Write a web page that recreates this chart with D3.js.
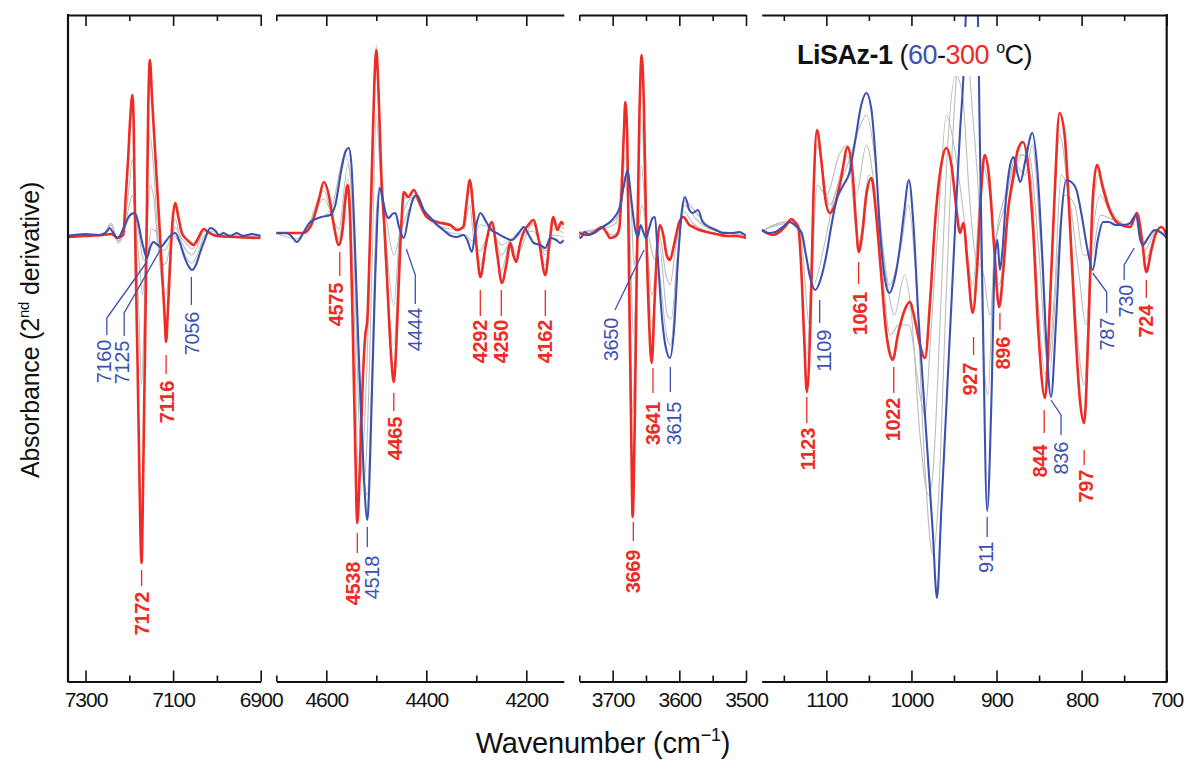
<!DOCTYPE html>
<html>
<head>
<meta charset="utf-8">
<script src="https://cdn.jsdelivr.net/npm/d3@7/dist/d3.min.js"></script>
<style>
html,body{margin:0;padding:0;background:#fff;}
svg{display:block;font-family:"Liberation Sans",Arial,Helvetica,sans-serif;}
</style>
</head>
<body>
<svg id="chart" width="1192" height="760"></svg>
<script>
// ---------------- DATA ----------------
// x-axis broken into four wavenumber windows (cm-1)
const panelDomains = [[7340, 6900], [4700, 4125], [3750, 3500], [1176, 700]];
const majorTicks = [[7300, 7100, 6900], [4600, 4400, 4200], [3700, 3600, 3500], [1100, 1000, 900, 800, 700]];
const minorTicks = [[7200, 7000], [4700, 4500, 4300], [3750, 3650, 3550], [1150, 1050, 950, 850, 750]];
const tickLabels = [["7300", "7100", "6900"], ["4600", "4400", "4200"], ["3700", "3600", "3500"], ["1100", "1000", "900", "800", "700"]];
// 2nd-derivative absorbance, arbitrary units (0 = baseline)
const valueDomain = [-223.25, 110];

// 300 °C (red)
const redP1 = [[7340,-1],[7300,-0.5],[7260,0],[7240,0.5],[7228,-1.5],[7218,-0.5],[7214,0],[7208,20],[7203,37],[7198,58],[7193,70],[7190,55],[7186,-8],[7181,-66],[7177,-120],[7172,-164],[7168,-115],[7164,-55],[7160,10],[7157,60],[7153,87.5],[7148,68],[7143,49],[7138,30],[7131,4],[7124,-23],[7120,-38],[7116,-53.5],[7112,-38],[7108,-20],[7101,8],[7095,16],[7088,9],[7080,1],[7070,-2],[7060,-4],[7054,-5],[7045,-2.5],[7030,3],[7020,1.5],[7000,-0.5],[6960,-1],[6900,-1.5]];
const redP2 = [[4700,1],[4680,1],[4646,1],[4630,5],[4615,17.5],[4605,26.5],[4595,20],[4585,5],[4575,-5],[4567,3.5],[4562,17.5],[4557,25],[4552,5],[4547,-47.5],[4542,-107.5],[4538,-144],[4533,-117.5],[4527,-72.5],[4522,-50],[4518,-42.5],[4513,-5],[4508,40],[4504,75],[4500,92.5],[4496,75],[4490,30],[4483,1],[4475,-40],[4470,-62],[4465,-73.5],[4460,-55],[4456,-30],[4450,5],[4445,21.5],[4436,19],[4425,22.5],[4412,15],[4399,9],[4379,6.5],[4352,5],[4339,2.5],[4326,4],[4320,15],[4313,27.5],[4305,10],[4298,-10],[4292,-21],[4281,-5],[4269,6.5],[4258,-10],[4249,-24],[4240,-15],[4232,-4],[4226,-10],[4220,-13.5],[4213,-5],[4206,1],[4196,5],[4186,7.5],[4175,-2.5],[4162,-20],[4154,-5],[4146,9],[4138,2.5],[4130,6.5],[4125,5]];
const redP3 = [[3752,1.5],[3740,0],[3730,1],[3716,4],[3708,0.5],[3704,-1.5],[3695,-0.5],[3690,3.5],[3686,27.5],[3683,52.5],[3681,66.5],[3678,47.5],[3675,-32.5],[3672,-102.5],[3670,-141],[3667,-97.5],[3664,-22.5],[3660,57.5],[3656.5,90],[3653,62.5],[3650,7.5],[3646,-37.5],[3641.5,-64],[3637,-32.5],[3633,-5],[3629,5],[3624,0],[3619,-10],[3614,-12.5],[3608,-5],[3600,6.5],[3594,9],[3585,5],[3579,4],[3570,2.5],[3559,1.5],[3545,0.5],[3530,-0.5],[3515,-0.5],[3500,-1.5]];
const redP4 = [[1176,2.5],[1170,1],[1163,0],[1155,1.5],[1148,4.5],[1141,8],[1137,6.5],[1133,4],[1130,-12.5],[1126,-52.5],[1123,-78.5],[1119,-47.5],[1115,22.5],[1111,52.5],[1106,37.5],[1101,17.5],[1096,11],[1090,15],[1083,27.5],[1075,44],[1069,30],[1065,5],[1062,-8.5],[1058,0],[1053,20],[1047,28.5],[1042,12.5],[1036,-17.5],[1030,-47.5],[1025,-60],[1022,-62.5],[1016,-50],[1008,-37.5],[1002,-33.5],[996,-42.5],[990,-55],[984,-61.5],[978,-32.5],[972,7.5],[965,35],[959,43.5],[953,35],[947,12.5],[943,1],[939,6],[934,-15],[928,-39],[923,-17.5],[918,22.5],[914,40],[909,30],[903,-5],[897,-36],[892,-17.5],[887,10],[880,30],[875,42.5],[869,46.5],[863,35],[857,2.5],[851,-47.5],[843,-81.5],[837,-32.5],[832,17.5],[826,61],[820,50],[814,7.5],[808,-42.5],[802,-82.5],[797,-94],[792,-47.5],[787,17.5],[782,35],[775,23.5],[767,12.5],[759,6.5],[750,4.5],[743,4],[735,11],[729,-2.5],[724,-18.5],[718,-7.5],[712,1.5],[706,4],[700,0]];

// 60 °C (blue)
const blueP1 = [[7340,-0.5],[7300,0.5],[7270,0],[7250,2],[7245,3.5],[7238,1.5],[7226,-1.5],[7215,2.5],[7203,8.5],[7195,10.5],[7187,11],[7180,6.5],[7172,-2.5],[7165,-8.5],[7160,-11.5],[7152,-6],[7145,-3.5],[7138,-4.5],[7128,-6],[7118,-3.5],[7105,0],[7095,1],[7085,-3.5],[7075,-10.5],[7065,-15.5],[7057,-17.5],[7048,-15],[7038,-8.5],[7028,-2.5],[7015,3.5],[7005,2.5],[6995,0],[6985,1],[6970,-0.5],[6955,1],[6940,-0.5],[6920,0.5],[6900,-0.5]];
const blueP2 = [[4700,1],[4680,1],[4670,-0.5],[4659,-3.5],[4645,1.5],[4632,6.5],[4610,9],[4592,10],[4582,15],[4570,32.5],[4562,41.5],[4555,43.5],[4550,36],[4545,10],[4540,-25],[4535,-60],[4530,-92],[4525,-120],[4518,-142.5],[4514,-125],[4510,-90],[4506,-55],[4502,-20],[4498,8],[4493,23.5],[4487,17.5],[4480,10],[4475,8.5],[4468,10.5],[4462,11],[4454,3.5],[4445,-1.5],[4435,10],[4426,18.5],[4419,20],[4405,12.5],[4393,9],[4380,5.5],[4366,2.5],[4350,-0.5],[4339,-1],[4326,0],[4318,-2.5],[4309,-8.5],[4300,5],[4292,11],[4280,6.5],[4270,2.5],[4259,1],[4245,-1],[4229,-2.5],[4215,1],[4205,4],[4195,0],[4185,-4],[4172,-5],[4162,-6.5],[4152,-1.5],[4140,-2.5],[4132,-4],[4125,-2.5]];
const blueP3 = [[3752,1],[3748,-1.5],[3742,1.5],[3735,0],[3725,1.5],[3715,4],[3704,6.5],[3695,10],[3689,14],[3683,25],[3677.5,32.5],[3672,17.5],[3666,2.5],[3662,-1],[3658,5],[3655,2.5],[3650,-1.5],[3646,2.5],[3640,8.5],[3636.5,9],[3632,-12.5],[3627,-37.5],[3621,-55],[3614,-61.5],[3608,-47.5],[3602,-12.5],[3596,12.5],[3591.5,19],[3585,12.5],[3580,11],[3572,12.5],[3565,6.5],[3555,4],[3545,2.5],[3535,1],[3520,1],[3510,1.5],[3500,-0.5]];
const blueP4 = [[1176,2.5],[1168,1],[1160,1.5],[1150,4.5],[1143,6.5],[1136,4.5],[1129,1],[1124,-10],[1119,-21.5],[1113,-27.5],[1107,-22.5],[1100,-10],[1094,5],[1088,17.5],[1080,25],[1073,31],[1066,47.5],[1059,65],[1053,71],[1047,62.5],[1042,37.5],[1037,2.5],[1031,-22.5],[1026,-29],[1020,-22.5],[1014,-7.5],[1009,10],[1003,27.5],[998,7.5],[992,-39.5],[986,-78],[980,-116],[975,-148],[970,-181.5],[965,-138.5],[959,-86],[953,-34],[947,18.5],[943,51],[939,78.5],[936,111],[932,137.5],[928,142.5],[925,130],[922,112.5],[920,57.5],[916,-42.5],[911,-138],[906,-82.5],[902,-12.5],[899,-2.5],[896,-17.5],[893,-7.5],[889,17.5],[884,35],[880,39],[875,30],[872,26.5],[866,37.5],[858,51],[852,32.5],[846,-12.5],[841,-57.5],[836,-81],[830,-42.5],[824,7.5],[818,27.5],[812,26.5],[806,22.5],[800,10],[793,-7.5],[787,-17.5],[781,-2.5],[775,6.5],[768,6.5],[760,5],[750,5],[743,6],[736,10],[731,-2.5],[728,-5],[722,-1.5],[714,2.5],[706,1],[700,-1.5]];

// intermediate temperatures (grey)
const greyP1a = [[7340,-0.5],[7260,0.5],[7240,5],[7228,-3],[7214,1],[7200,25],[7193,38],[7186,5],[7178,-40],[7172,-75],[7166,-40],[7160,15],[7153,50],[7145,35],[7135,0],[7125,-25],[7116,-30],[7105,-5],[7095,8],[7085,0],[7070,-4],[7057,-7],[7045,-4],[7030,2],[7000,0],[6900,-1]];
const greyP1b = [[7340,0],[7260,0],[7242,6],[7225,-4],[7212,2],[7200,15],[7193,20],[7185,5],[7175,-20],[7170,-30],[7162,-10],[7153,25],[7145,20],[7135,-5],[7125,-15],[7116,-14],[7105,-3],[7095,4],[7080,-4],[7065,-9],[7057,-10],[7045,-6],[7030,2],[7000,0],[6900,0]];
const greyP1c = [[7340,0],[7260,0],[7242,5],[7225,-3],[7210,3],[7195,11],[7187,10],[7178,0],[7168,-12],[7160,-13],[7150,3],[7140,2],[7128,-8],[7116,-7],[7100,0],[7085,-4],[7065,-13],[7057,-14],[7045,-10],[7028,0],[7010,2],[6990,0],[6900,0]];
const greyP2a = [[4700,1],[4646,1],[4605,22],[4575,-2],[4557,28],[4545,-30],[4535,-125],[4527,-110],[4518,-60],[4508,30],[4500,95],[4492,40],[4480,-20],[4465,-55],[4452,0],[4445,18],[4425,20],[4400,9],[4350,5],[4330,3],[4313,22],[4300,-5],[4292,-15],[4270,5],[4250,-18],[4232,-3],[4220,-10],[4186,6],[4162,-15],[4146,6],[4125,3]];
const greyP2b = [[4700,1],[4646,1],[4605,18],[4575,3],[4557,35],[4545,-5],[4535,-90],[4525,-125],[4518,-100],[4508,-10],[4500,60],[4492,30],[4480,-5],[4465,-35],[4452,5],[4440,15],[4425,19],[4400,9],[4350,3],[4325,3],[4313,15],[4305,-2],[4292,-8],[4270,4],[4250,-10],[4232,-3],[4186,5],[4162,-10],[4146,3],[4125,1]];
const greyP2c = [[4700,1],[4659,-2],[4632,6],[4592,12],[4562,40],[4550,25],[4540,-30],[4528,-110],[4518,-130],[4508,-60],[4500,10],[4493,25],[4480,8],[4465,-10],[4450,3],[4430,15],[4419,19],[4400,10],[4350,1],[4320,0],[4309,-3],[4292,5],[4270,3],[4250,-5],[4229,-2],[4186,2],[4162,-8],[4146,0],[4125,-1]];
const greyP3a = [[3752,1],[3716,3],[3700,0],[3690,3],[3681,40],[3675,-10],[3670,-90],[3665,-30],[3657,60],[3650,10],[3641,-45],[3630,0],[3620,-20],[3614,-25],[3605,-5],[3594,12],[3580,6],[3560,2],[3530,0],[3500,-1]];
const greyP3b = [[3752,1],[3716,3],[3695,6],[3681,25],[3674,0],[3669,-50],[3663,-10],[3657,35],[3650,5],[3641,-30],[3630,-5],[3618,-40],[3612,-42],[3603,-10],[3593,15],[3575,8],[3555,3],[3530,1],[3500,0]];
const greyP3c = [[3752,1],[3716,4],[3695,8],[3680,30],[3672,12],[3668,-15],[3662,0],[3656,15],[3648,3],[3640,-10],[3632,-15],[3618,-52],[3613,-55],[3603,-15],[3592,17],[3572,10],[3550,3],[3520,1],[3500,0]];
const greyP4a = [[1176,2],[1141,7],[1133,3],[1123,-60],[1111,45],[1096,15],[1080,35],[1075,40],[1062,-5],[1050,30],[1040,10],[1025,-50],[1015,-45],[1003,-45],[990,-80],[984,-90],[978,-55],[968,10],[959,60],[950,45],[940,15],[928,-25],[916,35],[908,20],[897,-25],[885,15],[870,40],[860,30],[850,-40],[843,-70],[835,-10],[826,50],[815,15],[805,-50],[797,-75],[787,10],[780,30],[765,12],[745,5],[735,10],[724,-12],[712,2],[700,0]];
const greyP4b = [[1176,2],[1141,7],[1130,0],[1120,-45],[1111,25],[1100,20],[1085,40],[1075,45],[1065,20],[1053,45],[1042,20],[1030,-20],[1020,-40],[1008,-20],[1000,-40],[990,-100],[980,-130],[975,-120],[966,-40],[958,40],[948,80],[940,70],[932,20],[925,-10],[915,-20],[908,-40],[900,0],[890,20],[875,40],[862,40],[850,-10],[840,-65],[832,-30],[824,30],[815,20],[803,-20],[795,-45],[787,0],[778,20],[765,10],[745,5],[735,10],[727,-8],[712,2],[700,0]];
const greyP4c = [[1176,2],[1143,6],[1128,-2],[1115,-25],[1105,-10],[1090,20],[1075,35],[1060,55],[1053,60],[1045,45],[1035,0],[1026,-25],[1012,-5],[1004,15],[995,-20],[985,-110],[975,-160],[968,-130],[960,-40],[950,60],[942,100],[935,95],[928,60],[920,10],[914,-70],[910,-80],[903,-10],[890,15],[878,35],[866,30],[858,45],[848,-5],[838,-70],[828,-10],[820,20],[808,15],[798,-10],[788,-10],[778,10],[765,8],[745,5],[735,10],[729,-4],[714,2],[700,-1]];

// band assignments (wavenumber, series: r = 300 °C, b = 60 °C, panel index)
const peakWavenumbers = [7172, 7116, 7056, 7160, 7125, 4575, 4538, 4518, 4465, 4444, 4292, 4250, 4162, 3669, 3650, 3641, 3615, 1123, 1109, 1061, 1022, 927, 911, 896, 844, 836, 797, 787, 730, 724];
const peakSeries = ["r","r","b","b","b","r","r","b","r","b","r","r","r","r","b","r","b","r","b","r","r","r","b","r","r","b","r","b","b","r"];
const peakPanels = [0,0,0,0,0,1,1,1,1,1,1,1,1,2,2,2,2,3,3,3,3,3,3,3,3,3,3,3,3,3];

// ---------------- LAYOUT ----------------
const W = 1192, H = 760;
const yTop = 15, yBot = 681.5;
const panelRanges = [[68, 260.7], [276.3, 563.8], [579.3, 746], [761.7, 1166.7]];
const RED = "#ee2b24", BLUE = "#3d51b0", GREY = "#bdbdbd";
// leader polylines [dx from band, y] , text top y, text dx
const peakLayout = [
  {lead: [[0,570],[0,586]], ty: 592, tdx: 0},
  {lead: [[0,355],[0,374]], ty: 381, tdx: 1},
  {lead: [[-1,277],[-1,305]], ty: 312, tdx: 0},
  {lead: [[0,262],[-40,318],[-40,335]], ty: 340, tdx: -43},
  {lead: [[-2,250],[-38,313],[-38,336]], ty: 341, tdx: -40},
  {lead: [[1,252],[1,276]], ty: 283, tdx: -3},
  {lead: [[0,533],[0,553]], ty: 562, tdx: -4},
  {lead: [[0,527],[0,547]], ty: 556, tdx: 5},
  {lead: [[0,393],[0,411]], ty: 417, tdx: 1},
  {lead: [[2,249],[11,275],[11,304]], ty: 308, tdx: 11},
  {lead: [[0,290],[0,316]], ty: 320, tdx: 0},
  {lead: [[0,290],[0,316]], ty: 320, tdx: 0},
  {lead: [[0,290],[0,316]], ty: 320, tdx: 0},
  {lead: [[0,522],[0,541]], ty: 550, tdx: 0},
  {lead: [[-2,250],[-31,310]], ty: 318, tdx: -35},
  {lead: [[1,368],[1,393]], ty: 402, tdx: 1},
  {lead: [[1,367],[1,392]], ty: 402, tdx: 5},
  {lead: [[0,397],[0,423]], ty: 428, tdx: 1},
  {lead: [[1,300],[1,323]], ty: 330, tdx: 5},
  {lead: [[-1,262],[-1,284]], ty: 292, tdx: 0},
  {lead: [[1,367],[1,393]], ty: 398, tdx: 0},
  {lead: [[0,337],[0,355]], ty: 363, tdx: -4},
  {lead: [[0,517],[0,537]], ty: 542, tdx: -1},
  {lead: [[0,313],[0,330]], ty: 337, tdx: 3},
  {lead: [[0,410],[0,433]], ty: 445, tdx: -4},
  {lead: [[0,400],[10,415],[10,435]], ty: 442, tdx: 10},
  {lead: [[0,450],[0,465]], ty: 470, tdx: 2},
  {lead: [[0,273],[14,292],[14,313]], ty: 318, tdx: 14},
  {lead: [[-7,248],[-17,265],[-17,280]], ty: 285, tdx: -15},
  {lead: [[0,280],[0,298]], ty: 305, tdx: 0}
];

// ---------------- DRAW ----------------
const svg = d3.select("#chart");
const y = d3.scaleLinear().domain(valueDomain).range([yBot, yTop]);
const xScales = panelDomains.map((d, i) => d3.scaleLinear().domain(d).range(panelRanges[i]));

const redSeries = [redP1, redP2, redP3, redP4];
const blueSeries = [blueP1, blueP2, blueP3, blueP4];
const greySeries = [[greyP1a, greyP1b, greyP1c], [greyP2a, greyP2b, greyP2c], [greyP3a, greyP3b, greyP3c], [greyP4a, greyP4b, greyP4c]];

const defs = svg.append("defs");
panelRanges.forEach((r, i) => {
  defs.append("clipPath").attr("id", "clip" + i).append("rect")
    .attr("x", r[0]).attr("y", yTop).attr("width", r[1] - r[0]).attr("height", yBot - yTop);
});

xScales.forEach((x, i) => {
  const g = svg.append("g").attr("clip-path", `url(#clip${i})`);
  const line = d3.line().x(d => x(d[0])).y(d => y(d[1])).curve(d3.curveMonotoneX);
  const sorted = s => s.slice().sort((a, b) => b[0] - a[0]);
  greySeries[i].forEach(s => g.append("path").attr("d", line(sorted(s)))
    .attr("fill", "none").attr("stroke", GREY).attr("stroke-width", 1.1));
  g.append("path").attr("d", line(sorted(redSeries[i])))
    .attr("fill", "none").attr("stroke", RED).attr("stroke-width", 2.6).attr("stroke-linejoin", "round");
  g.append("path").attr("d", line(sorted(blueSeries[i])))
    .attr("fill", "none").attr("stroke", BLUE).attr("stroke-width", 2.1).attr("stroke-linejoin", "round");
});

// axes
xScales.forEach((x, i) => {
  const labels = tickLabels[i];
  const gb = svg.append("g").attr("transform", `translate(0,${yBot})`)
    .call(d3.axisBottom(x).tickValues(majorTicks[i]).tickSize(-11).tickSizeOuter(0).tickPadding(11)
      .tickFormat((d, j) => labels[j]));
  const gbm = svg.append("g").attr("transform", `translate(0,${yBot})`)
    .call(d3.axisBottom(x).tickValues(minorTicks[i]).tickSize(-6).tickSizeOuter(0).tickFormat(""));
  gbm.select(".domain").remove();
  const gt = svg.append("g").attr("transform", `translate(0,${yTop})`)
    .call(d3.axisTop(x).tickValues(majorTicks[i]).tickSize(-11).tickSizeOuter(0).tickFormat(""));
  const gtm = svg.append("g").attr("transform", `translate(0,${yTop})`)
    .call(d3.axisTop(x).tickValues(minorTicks[i]).tickSize(-6).tickSizeOuter(0).tickFormat(""));
  gtm.select(".domain").remove();
  [gb, gbm, gt, gtm].forEach(g => {
    g.attr("font-family", null).attr("font-size", null);
    g.selectAll(".domain").attr("stroke", "#111").attr("stroke-width", 2.2);
    g.selectAll(".tick line").attr("stroke", "#111").attr("stroke-width", 1.6);
  });
  gb.selectAll(".tick text").attr("fill", "#111").attr("font-size", 21).attr("letter-spacing", -1);
});
// frame sides
svg.append("line").attr("x1", panelRanges[0][0]).attr("x2", panelRanges[0][0]).attr("y1", yTop - 1).attr("y2", yBot + 1)
  .attr("stroke", "#111").attr("stroke-width", 2.2);
svg.append("line").attr("x1", panelRanges[3][1]).attr("x2", panelRanges[3][1]).attr("y1", yTop - 1).attr("y2", yBot + 1)
  .attr("stroke", "#111").attr("stroke-width", 2.2);

// band labels
peakWavenumbers.forEach((w, k) => {
  const x = xScales[peakPanels[k]](w);
  const L = peakLayout[k];
  const isRed = peakSeries[k] === "r";
  const col = isRed ? RED : BLUE;
  svg.append("path").attr("d", d3.line()(L.lead.map(q => [x + q[0], q[1]])))
    .attr("fill", "none").attr("stroke", col).attr("stroke-width", 1.3);
  svg.append("text")
    .attr("transform", `translate(${x + L.tdx},${L.ty}) rotate(-90)`)
    .attr("text-anchor", "end").attr("dominant-baseline", "central")
    .attr("font-size", 20).attr("font-weight", isRed ? "bold" : "normal")
    .attr("letter-spacing", -0.3)
    .attr("fill", col).text(String(w));
});

// legend / title with white backing
svg.append("rect").attr("x", 792).attr("y", 27).attr("width", 256).attr("height", 49).attr("fill", "#fff");
const t = svg.append("text").attr("x", 797).attr("y", 64).attr("font-size", 27).attr("fill", "#111").attr("letter-spacing", -0.5);
t.append("tspan").attr("font-weight", "bold").text("LiSAz-1");
t.append("tspan").text(" (");
t.append("tspan").attr("fill", BLUE).text("60");
t.append("tspan").text("-");
t.append("tspan").attr("fill", RED).text("300");
t.append("tspan").text(" ");
t.append("tspan").attr("font-size", 16).attr("dy", -11).text("o");
t.append("tspan").attr("dy", 11).text("C)");

// axis titles
const yt = svg.append("text").attr("transform", "translate(39,330) rotate(-90)")
  .attr("text-anchor", "middle").attr("font-size", 25).attr("fill", "#111").attr("letter-spacing", -0.2);
yt.append("tspan").text("Absorbance (2");
yt.append("tspan").attr("font-size", 15).attr("dy", -10).text("nd");
yt.append("tspan").attr("dy", 10).text(" derivative)");

const xt = svg.append("text").attr("x", 603).attr("y", 753)
  .attr("text-anchor", "middle").attr("font-size", 29).attr("fill", "#111").attr("letter-spacing", -0.2);
xt.append("tspan").text("Wavenumber (cm");
xt.append("tspan").attr("font-size", 18).attr("dy", -12).text("\u22121");
xt.append("tspan").attr("dy", 12).text(")");
</script>
</body>
</html>
